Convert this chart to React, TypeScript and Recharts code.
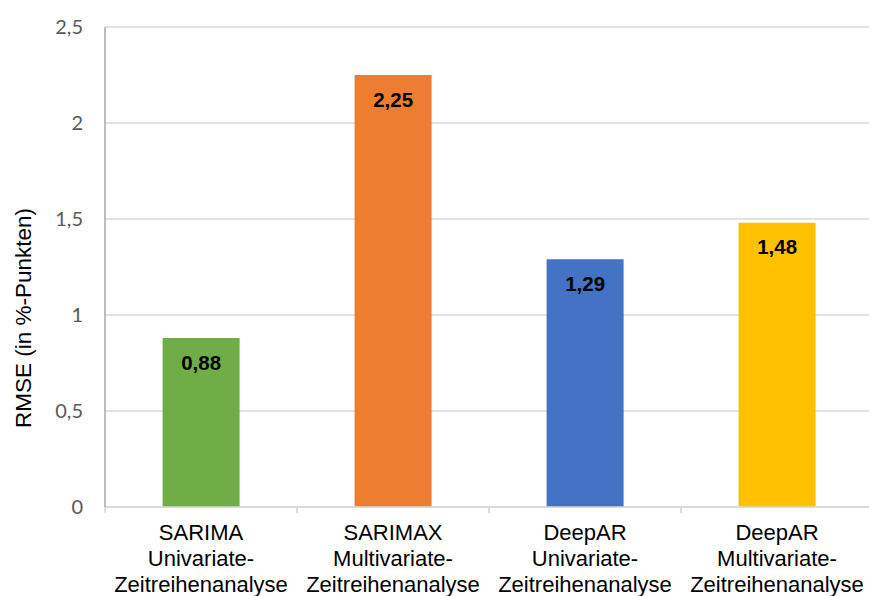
import React from "react";
import { BarChart, Bar, XAxis, YAxis, CartesianGrid, LabelList, Cell } from "recharts";

const modelNames = ["SARIMA", "SARIMAX", "DeepAR", "DeepAR"];
const analysisTypes = ["Univariate-", "Multivariate-", "Univariate-", "Multivariate-"];
const analysisSuffix = ["Zeitreihenanalyse", "Zeitreihenanalyse", "Zeitreihenanalyse", "Zeitreihenanalyse"];
const rmseValues = [0.88, 2.25, 1.29, 1.48];
const barColors = ["#70AD47", "#ED7D31", "#4472C4", "#FFC000"];
const yTicks = [0, 0.5, 1, 1.5, 2, 2.5];
const yAxisTitle = "RMSE (in %-Punkten)";

const data = modelNames.map((m, i) => ({
  key: String(i),
  lines: [m, analysisTypes[i], analysisSuffix[i]],
  value: rmseValues[i],
}));

const fmt = (v: number) => String(v).replace(".", ",");

const XTick = (props: any) => {
  const { x, y, payload, width } = props;
  const band = width / data.length;
  const d = data[Number(payload.value)];
  return (
    <g>
      <line x1={x - band / 2} x2={x - band / 2} y1={y - 8} y2={y - 2} stroke="#d9d9d9" strokeWidth={1.5} />
      <line x1={x + band / 2} x2={x + band / 2} y1={y - 8} y2={y - 2} stroke="#d9d9d9" strokeWidth={1.5} />
      <text x={x} y={y} textAnchor="middle" fontFamily="'Liberation Sans', Arial, sans-serif" fontSize={22} fill="#000">
        {d.lines.map((l: string, i: number) => (
          <tspan key={i} x={x} dy={i === 0 ? 25 : 26}>{l}</tspan>
        ))}
      </text>
    </g>
  );
};

const YTitle = (props: any) => {
  const { viewBox } = props;
  const cx = viewBox.x + 23;
  const cy = viewBox.y + viewBox.height / 2 + 51;
  return (
    <text x={cx} y={cy} transform={`rotate(-90 ${cx} ${cy})`} textAnchor="middle" dominantBaseline="central"
      fontFamily="'Liberation Sans', Arial, sans-serif" fontSize={22.5} fill="#000">
      {yAxisTitle}
    </text>
  );
};

export default function App() {
  return (
    <div style={{ position: "absolute", left: 0, top: 0, width: 869, height: 596, overflow: "hidden", background: "#fff" }}>
      <BarChart width={873} height={596} data={data} margin={{ top: 27, right: 0, bottom: 0, left: 0 }} barCategoryGap="30%">
        <CartesianGrid vertical={false} stroke="#d9d9d9" strokeWidth={1.5} />
        <XAxis dataKey="key" height={89} tick={<XTick />} tickLine={false} axisLine={{ stroke: "#d9d9d9", strokeWidth: 1.5 }} interval={0} />
        <YAxis width={105} domain={[0, 2.5]} ticks={yTicks} tickFormatter={fmt} tickLine={false}
          axisLine={{ stroke: "#a6a6a6", strokeWidth: 1.5 }}
          tick={{ fill: "#595959", fontSize: 20, fontFamily: "Lato, sans-serif" }} tickMargin={16}
          label={<YTitle />} />
        <Bar dataKey="value" isAnimationActive={false}>
          {data.map((d, i) => (
            <Cell key={d.key} fill={barColors[i]} />
          ))}
          <LabelList dataKey="value" position="insideTop" offset={17} formatter={(v: any) => fmt(v)}
            style={{ fontWeight: "bold", fontSize: 20.5, fill: "#000", fontFamily: "'Liberation Sans', Arial, sans-serif" }} />
        </Bar>
      </BarChart>
    </div>
  );
}
